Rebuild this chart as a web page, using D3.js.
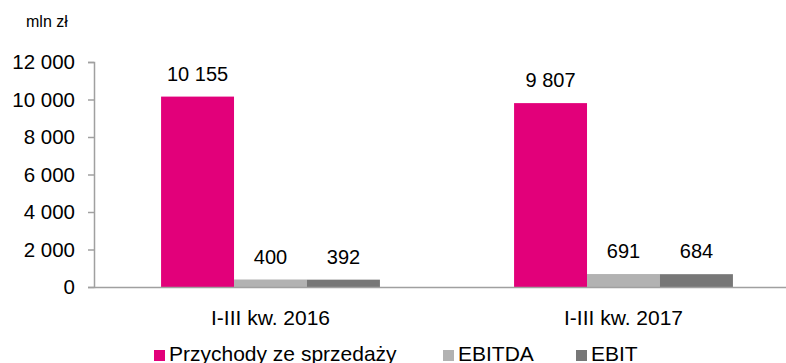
<!DOCTYPE html>
<html>
<head>
<meta charset="utf-8">
<script src="https://cdn.jsdelivr.net/npm/d3@7"></script>
<style>
  body { margin: 0; background: #fff; }
  text { font-family: "Liberation Sans", Arial, sans-serif; fill: #000; }
</style>
</head>
<body>
<div id="chart"></div>
<script>
// data
const periods = ['I-III kw. 2016', 'I-III kw. 2017'];
const seriesNames = ['Przychody ze sprzedaży', 'EBITDA', 'EBIT'];
const revenue = [10155, 9807];
const ebitda = [400, 691];
const ebit = [392, 684];
const yTicks = [0, 2000, 4000, 6000, 8000, 10000, 12000];
const colors = ['#E2007A', '#B2B2B2', '#777777'];

const W = 786, H = 363;
const margin = { top: 62, left: 94, right: -14, bottom: 76 };
const width = W - margin.left - margin.right;
const height = H - margin.top - margin.bottom;

const fmt = v => d3.format(',')(v).replace(/,/g, ' ');

const svg = d3.select('#chart')
  .append('svg')
  .attr('width', W)
  .attr('height', H);

const g = svg.append('g')
  .attr('transform', 'translate(' + margin.left + ',' + margin.top + ')');

const x0 = d3.scaleBand()
  .domain(periods)
  .range([0, width]);

const x1 = d3.scaleBand()
  .domain(seriesNames)
  .range([0, x0.bandwidth() * 0.62])
  .padding(0);

const y = d3.scaleLinear()
  .domain([0, 12000])
  .range([height, 0]);

// y axis
const yAxis = g.append('g')
  .call(d3.axisLeft(y).tickValues(yTicks).tickFormat(fmt).tickSize(6).tickPadding(13));
yAxis.select('.domain').attr('stroke', '#A0A0A0').attr('stroke-width', 1.5);
yAxis.selectAll('.tick line').attr('stroke', '#A0A0A0').attr('stroke-width', 1.5);
yAxis.selectAll('.tick text').style('font-size', '20.5px').attr('fill', '#000');

svg.append('text')
  .attr('x', 26)
  .attr('y', 27)
  .style('font-size', '16px')
  .text('mln zł');

const table = periods.map((p, i) => ({
  period: p,
  values: [revenue[i], ebitda[i], ebit[i]].map((v, j) => ({ name: seriesNames[j], value: v, color: colors[j] }))
}));

const groups = g.selectAll('.group')
  .data(table)
  .enter()
  .append('g')
  .attr('transform', d => 'translate(' + (x0(d.period) + x0.bandwidth() * 0.19) + ',0)');

groups.selectAll('rect')
  .data(d => d.values)
  .enter()
  .append('rect')
  .attr('x', d => x1(d.name))
  .attr('width', x1.bandwidth())
  .attr('y', d => y(d.value))
  .attr('height', d => height - y(d.value))
  .attr('fill', d => d.color);

groups.selectAll('.lbl')
  .data(d => d.values)
  .enter()
  .append('text')
  .attr('x', d => x1(d.name) + x1.bandwidth() / 2)
  .attr('y', d => y(d.value) - 16)
  .attr('text-anchor', 'middle')
  .style('font-size', '20px')
  .text(d => fmt(d.value));

// x axis
const xAxis = g.append('g')
  .attr('transform', 'translate(0,' + height + ')')
  .call(d3.axisBottom(x0).tickSize(0).tickPadding(23));
xAxis.select('.domain').attr('stroke', '#A0A0A0').attr('stroke-width', 1.5);
xAxis.selectAll('.tick text').style('font-size', '21px').attr('fill', '#000');

// legend (cut at the bottom edge, as in the original)
const legendX = [154, 443, 576];
const legend = svg.selectAll('.legend')
  .data(seriesNames)
  .enter()
  .append('g')
  .attr('transform', (d, i) => 'translate(' + legendX[i] + ',' + 347 + ')');

legend.append('rect')
  .attr('y', 3)
  .attr('width', 11)
  .attr('height', 11)
  .attr('fill', (d, i) => colors[i]);

legend.append('text')
  .attr('x', 15)
  .attr('y', 14)
  .style('font-size', '21px')
  .text(d => d);
</script>
</body>
</html>
